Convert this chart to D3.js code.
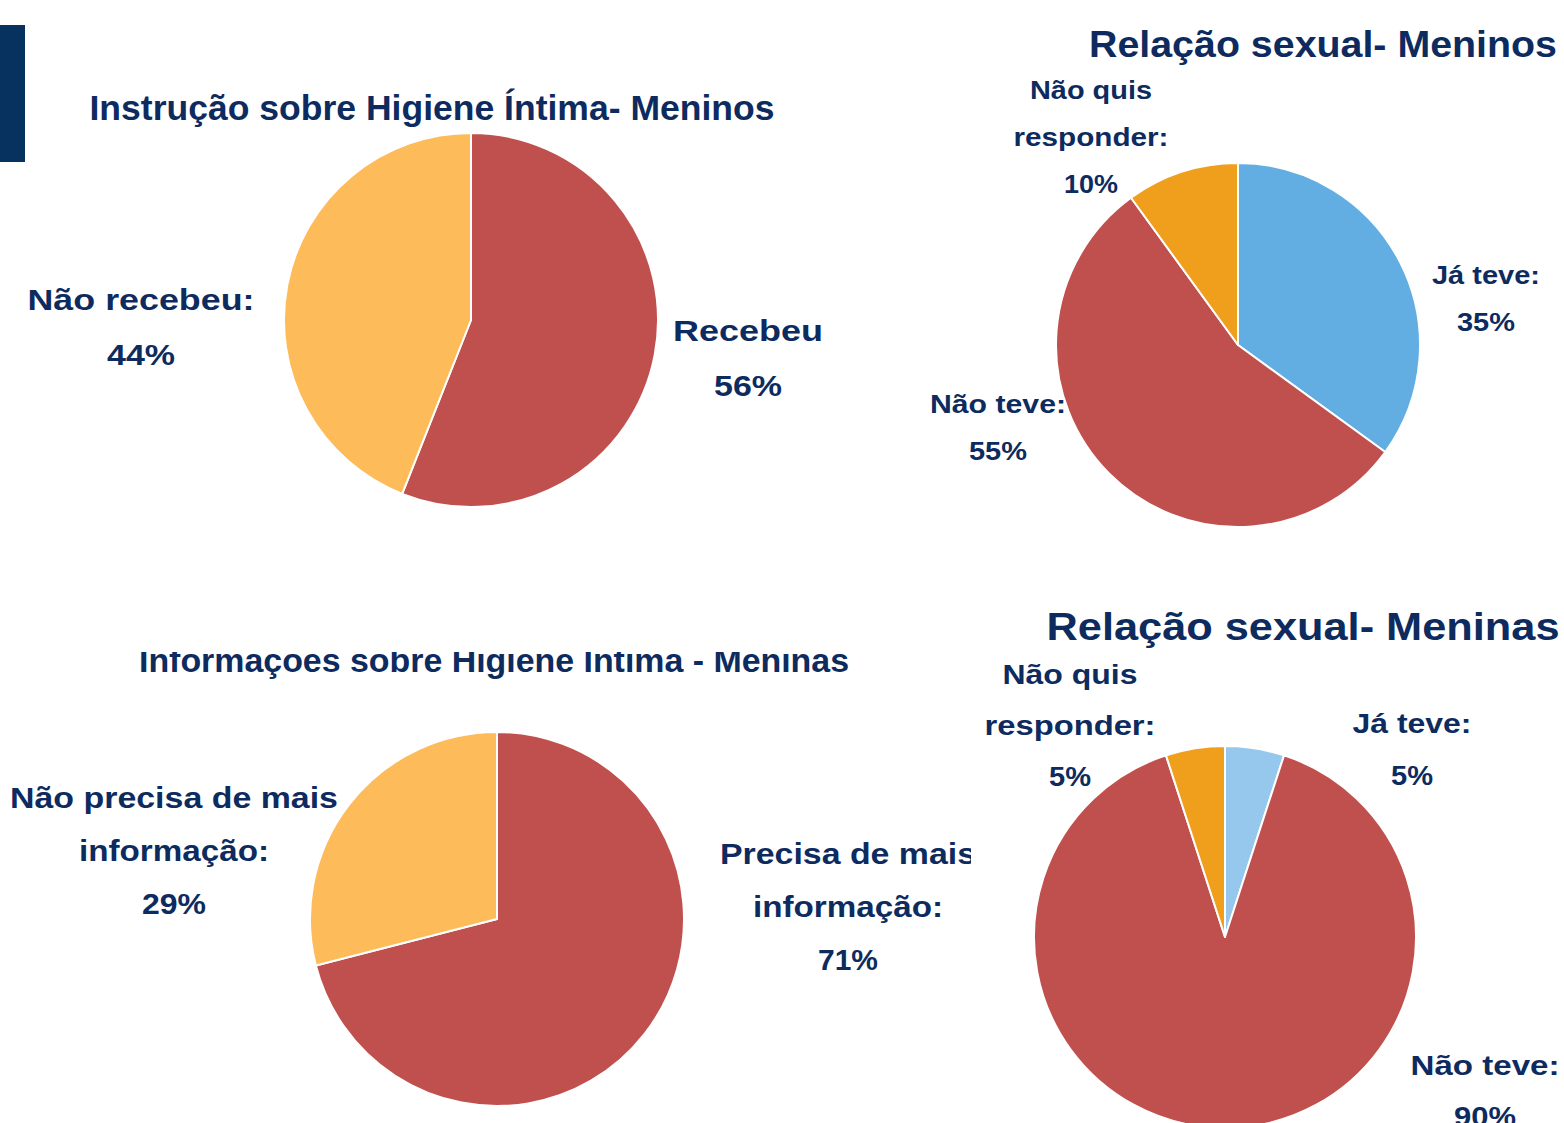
<!DOCTYPE html>
<html><head><meta charset="utf-8">
<script src="https://cdn.jsdelivr.net/npm/d3@7"></script>
<style>body{margin:0;background:#fff}svg{display:block}</style>
</head><body>
<svg id="c" width="1564" height="1123"></svg>
<script>
// ---- data ----
const titles = ["Instrução sobre Higiene Íntima- Meninos","Relação sexual- Meninos","Informações sobre Higiene Intima - Meninas","Relação sexual- Meninas"];
const cat1 = ["Recebeu","Não recebeu"];
const val1 = [56,44];
const cat2 = ["Já teve","Não teve","Não quis responder"];
const val2 = [35,55,10];
const cat3 = ["Precisa de mais informação","Não precisa de mais informação"];
const val3 = [71,29];
const cat4 = ["Já teve","Não teve","Não quis responder"];
const val4 = [5,90,5];
// label lines per slice
const lab1 = [["Recebeu","56%"],["Não recebeu:","44%"]];
const lab2 = [["Já teve:","35%"],["Não teve:","55%"],["Não quis","responder:","10%"]];
const lab3 = [["Precisa de mais","informação:","71%"],["Não precisa de mais","informação:","29%"]];
const lab4 = [["Já teve:","5%"],["Não teve:","90%"],["Não quis","responder:","5%"]];

const TXT = "#0d2b5e";
const svg = d3.select("#c");
svg.append("rect").attr("x",0).attr("y",25).attr("width",25).attr("height",137).attr("fill","#07325f");

const defs = svg.append("defs");
defs.append("clipPath").attr("id","clipT3").append("rect").attr("x",0).attr("y",652).attr("width",960).attr("height",100);
defs.append("clipPath").attr("id","clipL3").append("rect").attr("x",0).attr("y",0).attr("width",971).attr("height",1123);

const charts = [
  {cats:cat1, vals:val1, labs:lab1, colors:["#C0504D","#FDBB5A"], cx:471, cy:320, r:187,
   title:{x:432, y:120, size:35, len:685},
   lpos:[{x:748,y:341,dy:55,size:30,lens:[150,68]},{x:141,y:310,dy:55,size:30,lens:[227,68]}]},
  {cats:cat2, vals:val2, labs:lab2, colors:["#62AEE3","#C0504D","#F09F1C"], cx:1238, cy:345, r:182,
   title:{x:1323, y:57, size:37, len:468},
   lpos:[{x:1486,y:284,dy:47,size:25,lens:[108,58]},{x:998,y:413,dy:47,size:25,lens:[136,58]},{x:1091,y:99,dy:47,size:25,lens:[122,155,54]}]},
  {cats:cat3, vals:val3, labs:lab3, colors:["#C0504D","#FDBB5A"], cx:497, cy:919, r:187,
   title:{x:494, y:672, size:33, len:710, clip:"clipT3"},
   lpos:[{x:848,y:864,dy:53,size:29,lens:[256,190,60],clip:"clipL3"},{x:174,y:808,dy:53,size:29,lens:[328,190,64]}]},
  {cats:cat4, vals:val4, labs:lab4, colors:["#95C8EC","#C0504D","#F09F1C"], cx:1225, cy:937, r:191,
   title:{x:1303, y:640, size:38, len:513},
   lpos:[{x:1412,y:733,dy:52,size:27,lens:[119,42]},{x:1485,y:1075,dy:51,size:27,lens:[149,62]},{x:1070,y:684,dy:51,size:27,lens:[135,171,42]}]}
];

charts.forEach(ch=>{
  const pie = d3.pie().sort(null).value(d=>d.v);
  const arcs = pie(ch.cats.map((c,i)=>({c, v:ch.vals[i]})));
  const arc = d3.arc().innerRadius(0).outerRadius(ch.r);
  const g = svg.append("g").attr("transform",`translate(${ch.cx},${ch.cy})`);
  g.selectAll("path").data(arcs).join("path")
    .attr("d",arc).attr("fill",(d,i)=>ch.colors[i])
    .attr("stroke","#fff").attr("stroke-width",2).attr("stroke-linejoin","round");

  const t = svg.append("text").attr("x",ch.title.x).attr("y",ch.title.y)
    .attr("text-anchor","middle").attr("fill",TXT)
    .attr("font-family","'Liberation Sans', Arial, sans-serif").attr("font-weight","bold")
    .attr("font-size",ch.title.size).attr("textLength",ch.title.len).attr("lengthAdjust","spacingAndGlyphs")
    .text(titles[charts.indexOf(ch)]);
  if (ch.title.clip) t.attr("clip-path",`url(#${ch.title.clip})`);

  ch.labs.forEach((lines,i)=>{
    const p = ch.lpos[i];
    const lg = svg.append("g");
    if (p.clip) lg.attr("clip-path",`url(#${p.clip})`);
    lines.forEach((ln,j)=>{
      lg.append("text").attr("x",p.x).attr("y",p.y+j*p.dy)
        .attr("text-anchor","middle").attr("fill",TXT)
        .attr("font-family","'Liberation Sans', Arial, sans-serif").attr("font-weight","bold")
        .attr("font-size",p.size).attr("textLength",p.lens[j]).attr("lengthAdjust","spacingAndGlyphs")
        .text(ln);
    });
  });
});
</script>
</body></html>
